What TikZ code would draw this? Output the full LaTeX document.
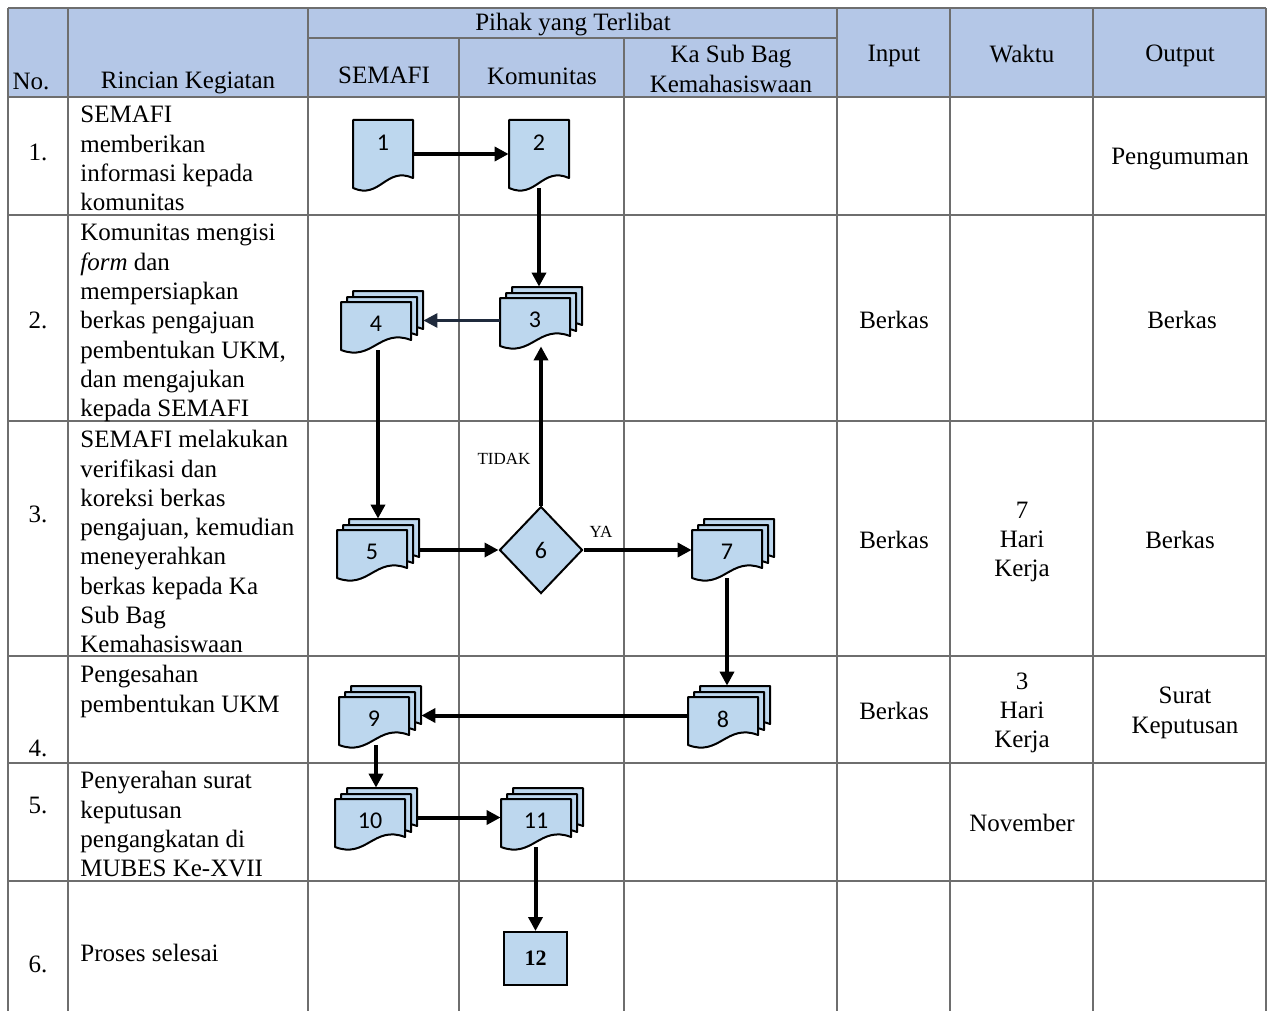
\documentclass[tikz,border=0pt]{standalone}
\usepackage{fontspec}
\setmainfont{Liberation Serif}
\newfontfamily\shapefont{Carlito}
\usetikzlibrary{shapes.geometric,arrows.meta,calc}

\definecolor{headblue}{HTML}{B4C7E7}
\definecolor{docblue}{HTML}{BDD7EE}
\definecolor{gridgray}{HTML}{6E6E6E}
\definecolor{navy}{HTML}{1F2A3C}

\tikzset{
  sheet/.style={draw=black, line width=1pt, fill=docblue, line join=round},
  area/.style={inner sep=0, draw=none},
  numtext/.style={font=\shapefont\fontsize{12}{14}\selectfont, inner sep=0},
  cell/.style={font=\fontsize{12.5}{14.65}\selectfont, align=center, inner sep=0},
  desc/.style={cell, align=left, anchor=north west},
  tag/.style={font=\fontsize{8.5}{10}\selectfont, inner sep=0},
  flow/.style={line width=2pt, -{Triangle[length=7pt,width=7pt]}},
  gridline/.style={draw=gridgray, line width=0.8pt}
}

% one sheet, top-left corner, width, height
\newcommand{\docpage}[4]{%
  \draw[sheet] (#1,#2) -- (#1+#3,#2) -- (#1+#3,#2+#4-10)
    .. controls (#1+0.55*#3,#2+#4-22) and (#1+0.45*#3,#2+#4+12) .. (#1,#2+#4) -- cycle;
}
% single document: name, x, y, label
\newcommand{\onedoc}[4]{%
  \docpage{#2}{#3}{60}{68}
  \node[area, minimum width=30pt, minimum height=34pt] (#1) at (#2+30,#3+34) {};
  \node[numtext] (#1-t) at (#2+30,#3+23) {#4};
}
% multi document: name, x, y of front sheet, label
\newcommand{\multidoc}[4]{%
  \docpage{#2+12}{#3-11}{70}{48}
  \docpage{#2+6}{#3-5}{70}{48}
  \docpage{#2}{#3}{70}{48}
  \node[area, minimum width=41pt, minimum height=29.5pt] (#1) at (#2+41,#3+18.5) {};
  \node[numtext] (#1-t) at (#2+35,#3+22) {#4};
}

\begin{document}
\begin{tikzpicture}[x=0.5pt, y=-0.5pt]
  \useasboundingbox (0,0) rectangle (1268,1011);

  % table
  \fill[headblue] (8,8) rectangle (1266,97);
  \foreach \y in {8,97,215,421,656,763,881}
    \draw[gridline] (8,\y) -- (1266,\y);
  \draw[gridline] (308,38) -- (837,38);
  \foreach \x in {8,68,308,837,950,1093,1266}
    \draw[gridline] (\x,8) -- (\x,1011);
  \foreach \x in {459,624}
    \draw[gridline] (\x,38) -- (\x,1011);

  % header
  \node[cell] (h-no) at (31,81) {No.};
  \node[cell] (h-rincian) at (188,83) {Rincian Kegiatan};
  \node[cell] (h-pihak) at (573,25) {Pihak yang Terlibat};
  \node[cell] (h-semafi) at (384,75) {SEMAFI};
  \node[cell] (h-komunitas) at (542,76) {Komunitas};
  \node[cell] (h-kasubbag) at (731,69) {Ka Sub Bag\\Kemahasiswaan};
  \node[cell] (h-input) at (894,56) {Input};
  \node[cell] (h-waktu) at (1022,54) {Waktu};
  \node[cell] (h-output) at (1180,56) {Output};

  % rows
  \node[cell] (no1) at (38,152) {1.};
  \node[cell] (no2) at (38,320) {2.};
  \node[cell] (no3) at (38,514) {3.};
  \node[cell] (no4) at (38,748) {4.};
  \node[cell] (no5) at (38,805) {5.};
  \node[cell] (no6) at (38,964) {6.};

  \node[desc] (keg1) at (80,106) {SEMAFI\\memberikan\\informasi kepada\\komunitas};
  \node[desc] (keg2) at (80,224) {Komunitas mengisi\\\textit{form} dan\\mempersiapkan\\berkas pengajuan\\pembentukan UKM,\\dan mengajukan\\kepada SEMAFI};
  \node[desc] (keg3) at (80,430) {SEMAFI melakukan\\verifikasi dan\\koreksi berkas\\pengajuan, kemudian\\meneyerahkan\\berkas kepada Ka\\Sub Bag\\Kemahasiswaan};
  \node[desc] (keg4) at (80,665) {Pengesahan\\pembentukan UKM};
  \node[desc] (keg5) at (80,771) {Penyerahan surat\\keputusan\\pengangkatan di\\MUBES Ke-XVII};
  \node[desc] (keg6) at (80,944) {Proses selesai};

  \node[cell] (out1) at (1180,159) {Pengumuman};
  \node[cell] (in2) at (894,320) {Berkas};
  \node[cell] (out2) at (1182,320) {Berkas};
  \node[cell] (in3) at (894,540) {Berkas};
  \node[cell] (wkt3) at (1022,542) {7\\Hari\\Kerja};
  \node[cell] (out3) at (1180,540) {Berkas};
  \node[cell] (in4) at (894,711) {Berkas};
  \node[cell] (wkt4) at (1022,713) {3\\Hari\\Kerja};
  \node[cell] (out4) at (1185,713) {Surat\\Keputusan};
  \node[cell] (wkt5) at (1022,823) {November};

  % flow shapes
  \onedoc{n1}{353}{120}{1}
  \onedoc{n2}{509}{120}{2}
  \multidoc{n3}{500}{298}{3}
  \multidoc{n4}{341}{302}{4}
  \multidoc{n5}{337}{530}{5}
  \node[diamond, draw, line width=1pt, fill=docblue, inner sep=0,
    minimum width=41.5pt, minimum height=43.5pt,
    font=\shapefont\fontsize{12}{14}\selectfont] (n6) at (541,550) {6};
  \multidoc{n7}{692}{530}{7}
  \multidoc{n8}{688}{697}{8}
  \multidoc{n9}{339}{697}{9}
  \multidoc{n10}{335}{799}{10}
  \multidoc{n11}{501}{799}{11}
  \node[draw, line width=1pt, fill=docblue, inner sep=0,
    minimum width=31.5pt, minimum height=26.5pt,
    font=\bfseries\fontsize{11}{13}\selectfont] (n12) at (535.5,958.5) {12};

  \node[tag] (tidak) at (504,459) {TIDAK};
  \node[tag] (ya) at (601,532) {YA};

  % connectors
  \draw[flow] (n1) -- (n2);
  \draw[flow] (n2) -- (n2 |- n3.north);
  \draw[flow, draw=navy, line width=1.5pt] (n3.west |- n4.east) -- (n4.east);
  \draw[flow] (n5 |- n4.south) -- (n5.north);
  \draw[flow] (n5.east |- n6.west) -- (n6.west);
  \draw[flow] (n6.east) -- (n7.west |- n6.east);
  \draw[flow] (n6.north) -- (n6 |- n3.south);
  \draw[flow] (n7-t |- n7.south) -- (n7-t |- n8.north);
  \draw[flow] (n8.west) -- (n9.east |- n8.west);
  \draw[flow] (n10 |- n9.south) -- (n10.north);
  \draw[flow] (n10.east) -- (n11.west |- n10.east);
  \draw[flow] (n12 |- n11.south) -- (n12.north);
\end{tikzpicture}
\end{document}
